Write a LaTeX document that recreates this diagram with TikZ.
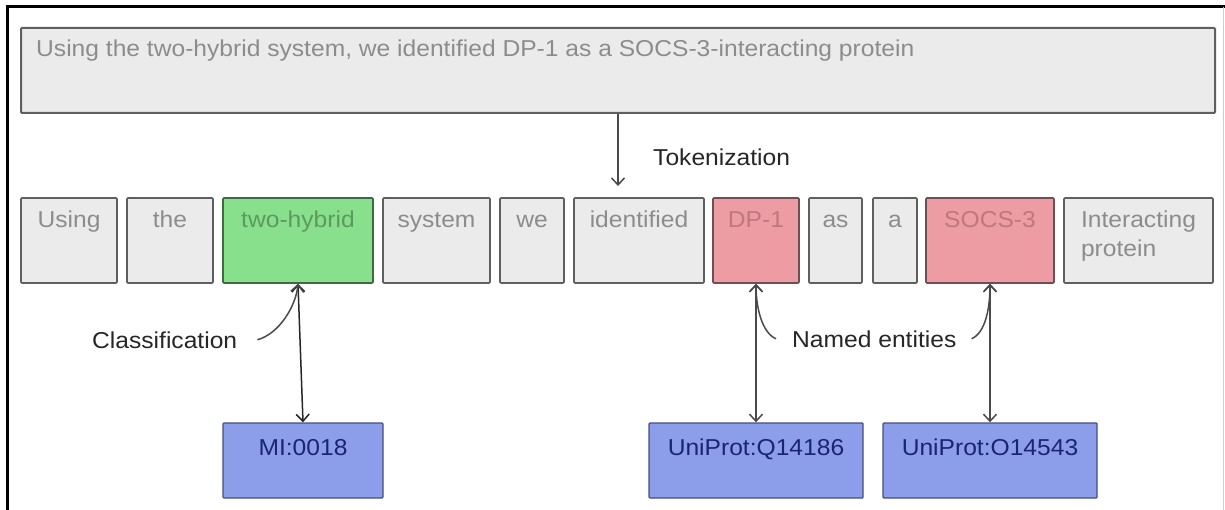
\documentclass[tikz,border=0pt]{standalone}
\usepackage{fontspec}
\setmainfont{Liberation Sans}[FakeStretch=1.07]
\usetikzlibrary{arrows.meta}

\definecolor{tokfill}{HTML}{EBEBEB}
\definecolor{tokline}{HTML}{5F5F5F}
\definecolor{toktext}{HTML}{8C8C8C}
\definecolor{clsfill}{HTML}{88E08C}
\definecolor{clsline}{HTML}{3F6A42}
\definecolor{clstext}{HTML}{5C9A60}
\definecolor{entfill}{HTML}{EE9CA4}
\definecolor{entline}{HTML}{6E5054}
\definecolor{enttext}{HTML}{BE7780}
\definecolor{idfill}{HTML}{8C9EEA}
\definecolor{idline}{HTML}{464E80}
\definecolor{idtext}{HTML}{1C2472}
\definecolor{labtext}{HTML}{262626}
\definecolor{arrline}{HTML}{4A4A4A}

\tikzset{
  txt/.style={inner sep=0pt, font=\fontsize{23}{29}\selectfont},
  tok/.style={draw=tokline, fill=tokfill, line width=1.6pt, inner sep=0pt,
    minimum height=85pt, rounded corners=1pt},
  toklabel/.style={txt, anchor=base, text=toktext},
  clsbox/.style={fill=clsfill, draw=clsline},
  entbox/.style={fill=entfill, draw=entline},
  idbox/.style={draw=idline, fill=idfill, line width=1.4pt, inner sep=0pt,
    minimum height=75pt, minimum width=160pt, rounded corners=1pt},
  idlabel/.style={txt, anchor=base, text=idtext},
  lab/.style={txt, text=labtext},
  conn/.style={draw=arrline, line width=1.5pt,
    >={Straight Barb[length=7pt,width=13pt]}},
}

% token box: name, left x, right x, extra style, text colour, text
\newcommand\tokbox[6]{%
  \node[tok,#4,minimum width={(#3-#2)*1pt}] (#1) at ({(#2+#3)/2},240.5) {};
  \node[toklabel,text=#5] (#1-t) at ({(#2+#3)/2},228) {#6};
}

\begin{document}
\begin{tikzpicture}[x=1pt,y=-1pt]
\useasboundingbox (0,0) rectangle (1225,510);

% frame
\draw[line width=3pt] (7,510) -- (7,7) -- (1225,7);
\draw[draw=black!20, line width=1pt] (1223,7) -- (1223,510);

% sentence
\node[tok, line width=2pt, minimum width=1194pt] (sent) at (618,70.5) {};
\node[txt, anchor=base west, text=toktext] (sent-t) at (36,57)
  {Using the two-hybrid system, we identified DP-1 as a SOCS-3-interacting protein};

% tokens
\tokbox{w1}{21}{117}{}{toktext}{Using}
\tokbox{w2}{127}{213}{}{toktext}{the}
\tokbox{w3}{223}{373}{clsbox}{clstext}{two-hybrid}
\tokbox{w4}{383}{490}{}{toktext}{system}
\tokbox{w5}{500}{564}{}{toktext}{we}
\tokbox{w6}{574}{704}{}{toktext}{identified}
\tokbox{w7}{713}{799}{entbox}{enttext}{DP-1}
\tokbox{w8}{809}{862}{}{toktext}{as}
\tokbox{w9}{873}{917}{}{toktext}{a}
\tokbox{w10}{926}{1054}{entbox}{enttext}{SOCS-3}
\tokbox{w11}{1064}{1213}{}{toktext}{\vtop{\hbox{Interacting}\hbox{protein}}}

% tokenization step
\coordinate (tkend) at (618,186);
\draw[conn,->] (sent.south) -- (tkend);
\node[lab, anchor=base west] (tokn) at (653,166) {Tokenization};

% identifiers
\node[idbox] (mi) at (303,460.5) {};
\node[idlabel] (mi-t) at (303,455) {MI:0018};
\node[idbox, minimum width=214pt] (upa) at (756,460.5) {};
\node[idlabel] (upa-t) at (756,455) {UniProt:Q14186};
\node[idbox, minimum width=214pt] (upb) at (990,460.5) {};
\node[idlabel] (upb-t) at (990,455) {UniProt:O14543};

% links token <-> identifier
\draw[conn,<->, draw=black!85] (w3.south) -- (mi.north);
\draw[conn,<->] (w7.south) -- (upa.north);
\draw[conn,<->] (w10.south) -- (upb.north);

% annotation labels
\node[lab, anchor=base west] (cls) at (92,348) {Classification};
\node[lab, anchor=base west] (ne) at (792,347) {Named entities};

\draw[conn,->] ([xshift=20pt]cls.east) .. controls +(22,-6) and +(-2,22) .. (w3.south);
\draw[conn,->] ([xshift=-16pt]ne.west) .. controls +(-14,-6) and +(0,24) .. (w7.south);
\draw[conn,->] ([xshift=15pt]ne.east) .. controls +(14,-6) and +(0,24) .. (w10.south);
\end{tikzpicture}
\end{document}
